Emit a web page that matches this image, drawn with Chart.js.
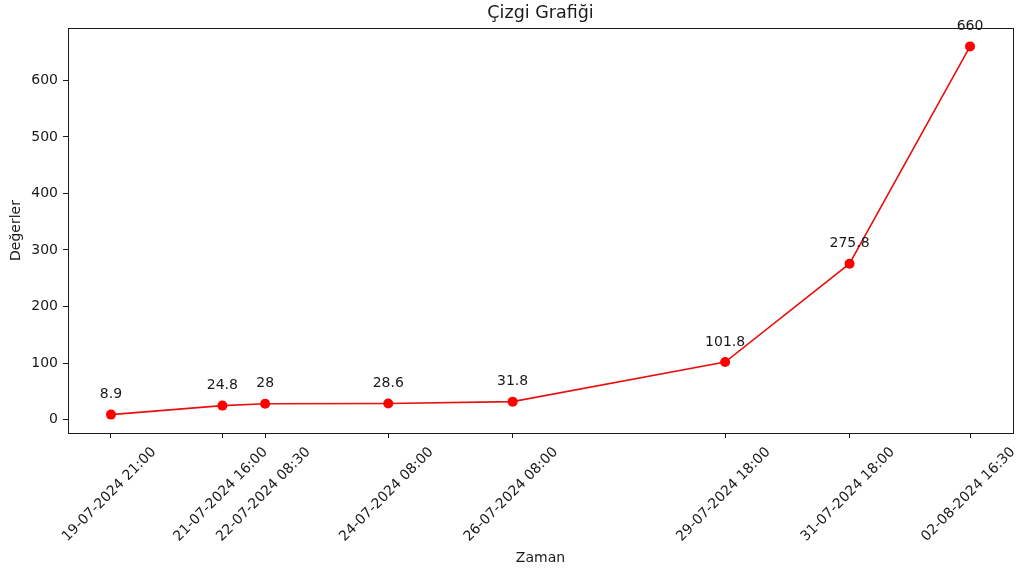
<!DOCTYPE html>
<html>
<head>
<meta charset="utf-8">
<script src="https://cdn.jsdelivr.net/npm/chart.js@4.4.1/dist/chart.umd.min.js"></script>
<style>
  html, body { margin: 0; padding: 0; background: #fff; }
  #wrap { width: 1024px; height: 576px; }
</style>
</head>
<body>
<div id="wrap"><canvas id="chart" width="1024" height="576"></canvas></div>
<script>
const timeLabels = [
  "19-07-2024 21:00", "21-07-2024 16:00", "22-07-2024 08:30", "24-07-2024 08:00",
  "26-07-2024 08:00", "29-07-2024 18:00", "31-07-2024 18:00", "02-08-2024 16:30"
];
const values = [8.9, 24.8, 28, 28.6, 31.8, 101.8, 275.8, 660];
const yTicks = [0, 100, 200, 300, 400, 500, 600];
const chartTitle = "Çizgi Grafiği";
const xTitle = "Zaman";
const yTitle = "Değerler";

// turn "dd-mm-yyyy hh:mm" into hours after the first entry
function toMs(s) {
  const [d, t] = s.split(" ");
  const [dd, mm, yy] = d.split("-").map(Number);
  const [hh, mi] = t.split(":").map(Number);
  return Date.UTC(yy, mm - 1, dd, hh, mi);
}
const t0 = toMs(timeLabels[0]);
const hours = timeLabels.map(s => (toMs(s) - t0) / 3600000);

// matplotlib style 5% margins
const xSpan = hours[hours.length - 1] - hours[0];
const ySpan = Math.max(...values) - Math.min(...values);

const FONT = "'DejaVu Sans', sans-serif";
const INK = "#1a1a1a";

const extras = {
  id: "extras",
  afterDraw(chart) {
    const { ctx, chartArea: a } = chart;
    ctx.save();
    // frame
    ctx.strokeStyle = INK;
    ctx.lineWidth = 1;
    ctx.strokeRect(a.left + 0.5, a.top + 0.5, a.right - a.left, a.bottom - a.top);
    // value labels
    const meta = chart.getDatasetMeta(0);
    ctx.fillStyle = INK;
    ctx.font = "14px " + FONT;
    ctx.textAlign = "center";
    ctx.textBaseline = "middle";
    meta.data.forEach((p, i) => {
      ctx.fillText(String(values[i]), p.x, p.y - 20);
    });
    // titles
    ctx.font = "17.5px " + FONT;
    ctx.fillText(chartTitle, (a.left + a.right) / 2, 13);
    ctx.font = "14px " + FONT;
    ctx.fillText(xTitle, (a.left + a.right) / 2, 558);
    ctx.translate(16, (a.top + a.bottom) / 2);
    ctx.rotate(-Math.PI / 2);
    ctx.fillText(yTitle, 0, 0);
    ctx.restore();
  }
};

new Chart(document.getElementById("chart"), {
  type: "line",
  data: {
    datasets: [{
      data: hours.map((h, i) => ({ x: h, y: values[i] })),
      borderColor: "#e8100f",
      backgroundColor: "#ff0000",
      borderWidth: 1.6,
      pointRadius: 5,
      pointBorderWidth: 0,
      pointHoverRadius: 5,
      tension: 0
    }]
  },
  options: {
    responsive: false,
    animation: false,
    events: [],
    layout: { padding: { top: 28, right: 11, left: 0, bottom: 0 } },
    plugins: { legend: { display: false }, tooltip: { enabled: false } },
    scales: {
      x: {
        type: "linear",
        min: hours[0] - xSpan * 0.05,
        max: hours[hours.length - 1] + xSpan * 0.05,
        afterBuildTicks: s => { s.ticks = hours.map(v => ({ value: v })); },
        afterFit: s => { s.height = 143; },
        border: { display: false },
        grid: { drawOnChartArea: false, drawTicks: true, tickLength: 5, color: INK },
        ticks: {
          autoSkip: false,
          minRotation: 45,
          maxRotation: 45,
          padding: 6,
          labelOffset: 43,
          color: INK,
          font: { family: FONT, size: 14 },
          callback: (v, i) => timeLabels[i]
        }
      },
      y: {
        min: Math.min(...values) - ySpan * 0.05,
        max: Math.max(...values) + ySpan * 0.05,
        afterBuildTicks: s => { s.ticks = yTicks.map(v => ({ value: v })); },
        afterFit: s => { s.width = 68; },
        border: { display: false },
        grid: { drawOnChartArea: false, drawTicks: true, tickLength: 5, color: INK },
        ticks: {
          padding: 5,
          color: INK,
          font: { family: FONT, size: 14 }
        }
      }
    }
  },
  plugins: [extras]
});
</script>
</body>
</html>
